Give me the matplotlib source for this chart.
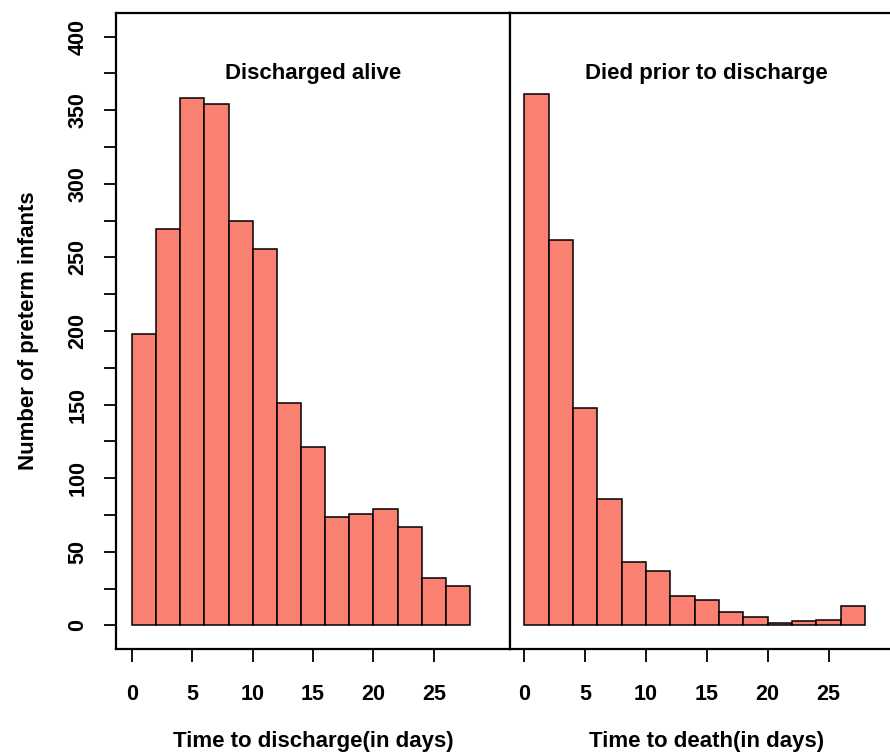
import matplotlib.pyplot as plt
import numpy as np

plt.rcParams['font.family'] = ['Liberation Sans', 'DejaVu Sans']
plt.rcParams['font.weight'] = 'bold'

# histogram bin edges (days) and counts
bin_edges = [0, 2, 4, 6, 8, 10, 12, 14, 16, 18, 20, 22, 24, 26, 28]
discharged_counts = [198, 269, 358, 354, 275, 256, 151, 121, 74, 76, 79, 67, 32, 27]
died_counts = [361, 262, 148, 86, 43, 37, 20, 17, 9, 6, 2, 3, 4, 13]

panel_titles = ['Discharged alive', 'Died prior to discharge']
x_labels = ['Time to discharge(in days)', 'Time to death(in days)']
y_label = 'Number of preterm infants'

fill = '#FA8072'

fig = plt.figure(figsize=(8.9, 7.53), dpi=100)
ax1 = fig.add_axes([0.1303, 0.1381, 0.4427, 0.8446])
ax2 = fig.add_axes([0.5730, 0.1381, 0.4427, 0.8446])

edges = np.array(bin_edges)
widths = np.diff(edges)

for ax, counts, title, xlab, xlim in [
        (ax1, discharged_counts, panel_titles[0], x_labels[0], (-1.32, 31.3)),
        (ax2, died_counts, panel_titles[1], x_labels[1], (-1.18, 31.2))]:
    ax.bar(edges[:-1], counts, width=widths, align='edge', color=fill,
           edgecolor='black', linewidth=1.1)
    ax.set_xlim(*xlim)
    ax.set_ylim(-16, 416)
    ax.set_xticks([0, 5, 10, 15, 20, 25])
    ax.tick_params(axis='x', direction='out', length=9, width=1.3, pad=16,
                   labelsize=15.5)
    ax.set_xlabel(xlab, fontsize=16, fontweight='bold', labelpad=19)
    ax.text(15, 375, title, ha='center', va='center', fontsize=16,
            fontweight='bold')
    for s in ax.spines.values():
        s.set_linewidth(1.6)

ax1.set_yticks(np.arange(0, 401, 25))
ax1.set_yticklabels([str(v) if v % 50 == 0 else '' for v in range(0, 401, 25)],
                    rotation=90, va='center')
ax1.tick_params(axis='y', direction='out', length=9, width=1.3, pad=11,
                labelsize=15.5)
ax1.set_ylabel(y_label, fontsize=16, fontweight='bold', labelpad=20)

ax2.set_yticks([])

fig.savefig('out.png', dpi=100)
